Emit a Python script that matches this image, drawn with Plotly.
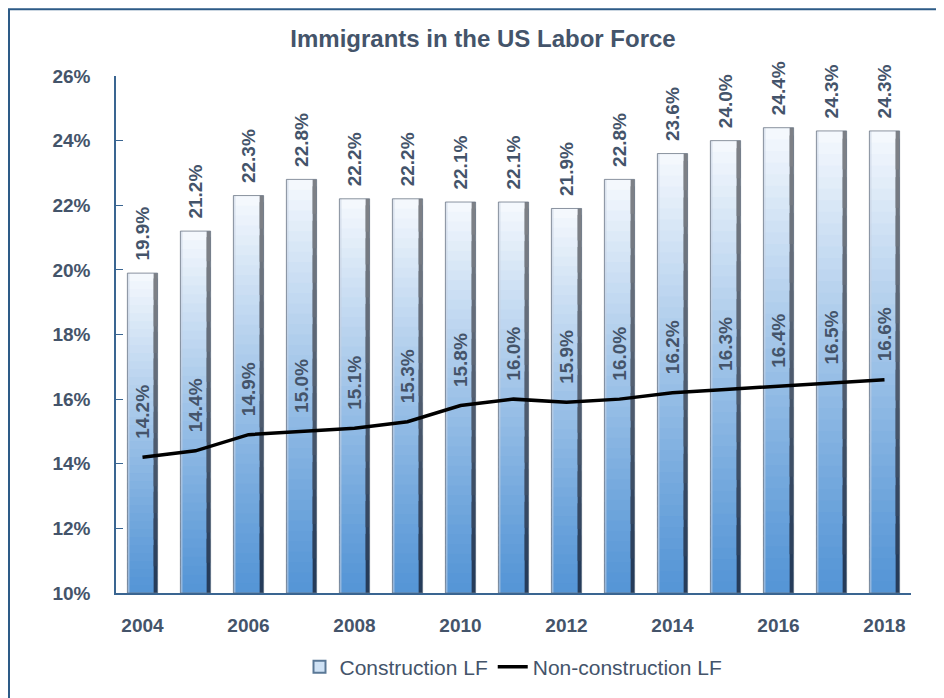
import plotly.graph_objects as go

years = list(range(2004, 2019))
construction = [19.9, 21.2, 22.3, 22.8, 22.2, 22.2, 22.1, 22.1, 21.9, 22.8, 23.6, 24.0, 24.4, 24.3, 24.3]
non_construction = [14.2, 14.4, 14.9, 15.0, 15.1, 15.3, 15.8, 16.0, 15.9, 16.0, 16.2, 16.3, 16.4, 16.5, 16.6]
x_tick_years = [2004, 2006, 2008, 2010, 2012, 2014, 2016, 2018]
y_ticks = [10, 12, 14, 16, 18, 20, 22, 24, 26]

BASE = 10
TXT = "#44546a"
FONT = "Liberation Sans, Arial, sans-serif"
BAR_W = 0.57
N = 40

def lerp(c1, c2, t):
    return "rgb(%d,%d,%d)" % tuple(round(a + (b - a) * t) for a, b in zip(c1, c2))

bottom_c = (86, 150, 214)
top_c = (244, 248, 253)

fig = go.Figure()

# gradient bars (stacked segments computed from values)
for k in range(N):
    t = k / (N - 1)
    frac = 1.0 if k == N - 1 else 1.8
    fig.add_trace(go.Bar(
        x=years,
        y=[(v - BASE) / N * frac for v in construction],
        base=[BASE + (v - BASE) * k / N for v in construction],
        width=BAR_W,
        marker=dict(color=lerp(bottom_c, top_c, t ** 1.15), line=dict(width=0)),
        showlegend=False, hoverinfo="skip",
    ))

# right dark edge
for k in range(12):
    t = k / 11
    frac = 1.0 if k == 11 else 1.8
    fig.add_trace(go.Bar(
        x=years,
        y=[(v - BASE) / 12 * frac for v in construction],
        base=[BASE + (v - BASE) * k / 12 for v in construction],
        width=0.075, offset=BAR_W / 2 - 0.075,
        marker=dict(color=lerp((38, 60, 90), (125, 128, 134), t), line=dict(width=0)),
        showlegend=False, hoverinfo="skip",
    ))

# left light edge
fig.add_trace(go.Bar(
    x=years, y=[v - BASE for v in construction], base=[BASE] * len(years),
    width=0.04, offset=-BAR_W / 2,
    marker=dict(color="rgba(200,210,225,0.55)", line=dict(width=0)),
    showlegend=False, hoverinfo="skip",
))

# outline
fig.add_trace(go.Bar(
    x=years, y=[v - BASE for v in construction], base=[BASE] * len(years),
    width=BAR_W,
    marker=dict(color="rgba(0,0,0,0)", line=dict(color="rgba(110,120,135,0.8)", width=1)),
    showlegend=False, hoverinfo="skip",
))

# legend entries
fig.add_trace(go.Bar(
    x=[None], y=[None], name="Construction LF",
    marker=dict(color="#cfe2f5", line=dict(color="#5a7896", width=2)),
))

fig.add_trace(go.Scatter(
    x=years, y=non_construction, mode="lines", name="Non-construction LF",
    line=dict(color="black", width=3.5), hoverinfo="skip",
))

annotations = []
for yr, v in zip(years, construction):
    annotations.append(dict(
        x=yr, y=v, xref="x", yref="y", text="%.1f%%" % v, textangle=-90,
        showarrow=False, xanchor="center", yanchor="bottom", yshift=10,
        font=dict(family=FONT, size=19, color=TXT, weight="bold"),
    ))
for yr, v in zip(years, non_construction):
    annotations.append(dict(
        x=yr, y=v, xref="x", yref="y", text="%.1f%%" % v, textangle=-90,
        showarrow=False, xanchor="center", yanchor="bottom", yshift=16,
        font=dict(family=FONT, size=19, color=TXT, weight="bold"),
    ))

W, H = 936, 690
L, R, T, B = 108, 33, 68, 104
PW, PH = W - L - R, H - T - B

fig.update_layout(
    width=W, height=H,
    margin=dict(l=L, r=R, t=T, b=B),
    paper_bgcolor="white", plot_bgcolor="white",
    barmode="overlay",
    title=dict(text="Immigrants in the US Labor Force", x=475 / W, xanchor="center",
               y=1 - 31 / H, yanchor="middle", yref="container",
               font=dict(family=FONT, size=24, color=TXT, weight="bold")),
    legend=dict(orientation="h", x=0.5, xanchor="center", y=-73 / PH, yanchor="middle",
                font=dict(family=FONT, size=21, color=TXT), traceorder="normal"),
    annotations=annotations,
    shapes=[dict(type="rect", xref="paper", yref="paper",
                 x0=(1 - L) / PW, x1=(W + 20 - L) / PW,
                 y0=(PH + T - H - 20) / PH, y1=(PH + T - 1) / PH,
                 line=dict(color="#2d5b87", width=2), layer="below")],
)

fig.update_xaxes(
    range=[2003.5, 2018.5], tickvals=x_tick_years, ticktext=[str(y) for y in x_tick_years],
    showgrid=False, zeroline=False, showline=True, linecolor="#3a6591", linewidth=1.5,
    ticks="", ticklabelstandoff=14,
    tickfont=dict(family=FONT, size=19, color=TXT, weight="bold"),
)
fig.update_yaxes(
    range=[10, 26], tickvals=y_ticks, ticktext=["%d%%" % v for v in y_ticks],
    showgrid=False, zeroline=False, showline=True, linecolor="#3a6591", linewidth=1.5,
    ticks="inside", ticklen=7, tickcolor="#3a6591", ticklabelstandoff=20,
    tickfont=dict(family=FONT, size=19, color=TXT, weight="bold"),
)

fig.write_html("out.html")
